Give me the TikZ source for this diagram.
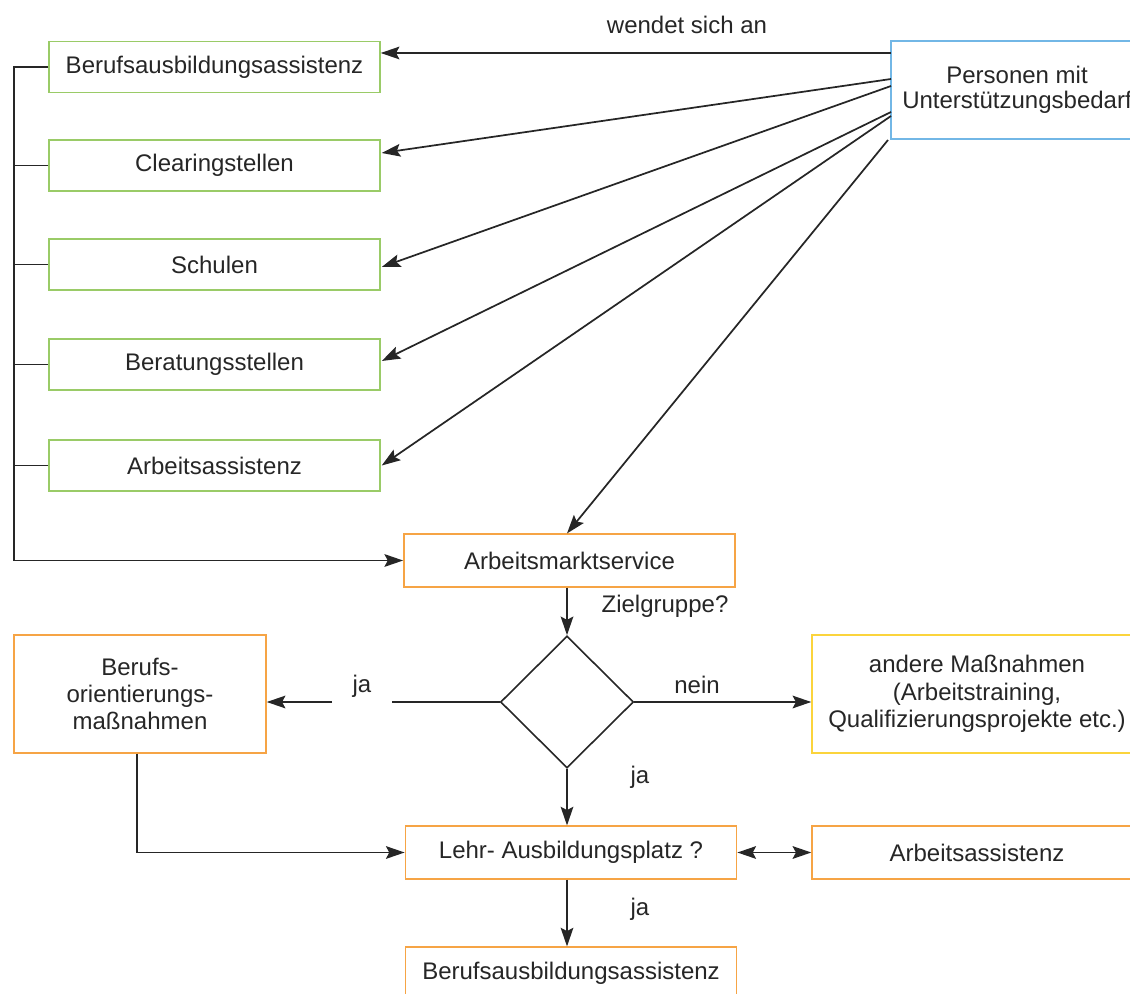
\documentclass[tikz,border=0pt]{standalone}
\usepackage{fontspec}
\setmainfont{Liberation Sans}
\usetikzlibrary{arrows.meta,shapes.geometric,calc}
\definecolor{ink}{HTML}{262626}
\definecolor{boxgreen}{HTML}{9ACB67}
\definecolor{boxblue}{HTML}{72B7E6}
\definecolor{boxorange}{HTML}{F6A445}
\definecolor{boxyellow}{HTML}{FBD43C}

\begin{document}
\begin{tikzpicture}[x=0.75pt,y=-0.75pt,
  every node/.style={font=\fontsize{18pt}{20.5pt}\selectfont, text=ink},
  box/.style={draw, line width=1.1pt, inner sep=0pt, align=center},
  greenbox/.style={box, draw=boxgreen, minimum width=248.25pt, minimum height=38.5pt},
  wideorange/.style={box, draw=boxorange, minimum width=248.5pt, minimum height=39.5pt},
  conn/.style={draw=ink, line width=1.3pt},
  head/.tip={Stealth[length=14pt,width=9.5pt,inset=2.5pt,fill=ink]},
  arr/.style={conn, -head},
  biarr/.style={conn, head-head},
  lbl/.style={inner sep=0pt}
]
\path[use as bounding box] (0,0) rectangle (1130,994);

% Anlaufstellen (links oben)
\node[greenbox] (b1) at (214.5,67)    {Berufsausbildungsassistenz};
\node[greenbox] (b2) at (214.5,165.5) {Clearingstellen};
\node[greenbox] (b3) at (214.5,264.5) {Schulen};
\node[greenbox] (b4) at (214.5,364.5) {Beratungsstellen};
\node[greenbox] (b5) at (214.5,465.5) {Arbeitsassistenz};

% Ausgangspunkt
\node[box, draw=boxblue, minimum width=189pt, minimum height=73.5pt,
      font=\fontsize{18pt}{19pt}\selectfont] (pers) at (1017,90)
      {Personen mit\\Unterstützungsbedarf};

% AMS und Entscheidung
\node[wideorange] (ams) at (569.5,560.5) {Arbeitsmarktservice};
\node[draw=ink, line width=1.2pt, diamond, minimum width=99.75pt,
      minimum height=99pt, inner sep=0pt] (dia) at (567,702) {};

\node[box, draw=boxorange, minimum width=189pt, minimum height=88.5pt] (bo) at (140,694)
      {Berufs-\\orientierungs-\\maßnahmen};
\node[box, draw=boxyellow, minimum width=247.5pt, minimum height=88.5pt] (andere) at (977,694)
      {andere Maßnahmen\\(Arbeitstraining,\\Qualifizierungsprojekte etc.)};

\node[wideorange] (lehr) at (571,852.5) {Lehr- Ausbildungsplatz ?};
\node[box, draw=boxorange, minimum width=247.5pt, minimum height=39.5pt] (aa2) at (977,852.5) {Arbeitsassistenz};
\node[wideorange] (bab) at (571,973.5) {Berufsausbildungsassistenz};

% Ausgaenge am linken Rand des Personen-Kastens
\coordinate (p1) at (891,53);
\coordinate (p2) at (891,79);
\coordinate (p3) at (891,86);
\coordinate (p4) at (891,112);
\coordinate (p5) at (891,116);
\coordinate (p6) at (888,140);

\draw[arr] (p1) -- (p1 -| b1.east);
\draw[arr] (p2) -- ($(b2.east)+(1,-12.5)$);
\draw[arr] (p3) -- ($(b3.east)+(1,2.5)$);
\draw[arr] (p4) -- ($(b4.east)+(1,-3.5)$);
\draw[arr] (p5) -- ($(b5.east)+(1,0)$);
\draw[arr] (p6) -- (ams.north -| dia.north);
\node[lbl] (wsa) at (687,25) {wendet sich an};

% Sammelschiene links
\coordinate (rail) at (14,0);
\draw[arr] (b1.west) -- (b1.west -| rail) |- (ams.west);
\draw[conn] (b2.west) -- (b2.west -| rail);
\draw[conn] (b3.west) -- (b3.west -| rail);
\draw[conn] (b4.west) -- (b4.west -| rail);
\draw[conn] (b5.west) -- (b5.west -| rail);

% Zielgruppe?
\draw[arr] (ams.south -| dia.north) -- (dia.north);
\node[lbl] (zg) at (665,606) {Zielgruppe?};

\coordinate (gapR) at (392,702);
\coordinate (gapL) at (332,702);
\draw[conn] (dia.west) -- (gapR);
\draw[arr] (gapL) -- (gapL -| bo.east);
\node[lbl] (ja1) at (362,686) {ja};

\draw[arr] (dia.east) -- (dia.east -| andere.west);
\node[lbl] (nein) at (697,685) {nein};

\draw[arr] (dia.south) -- (dia.south |- lehr.north);
\node[lbl] (ja2) at (640,777) {ja};

\draw[arr] (bo.south -| 137,0) |- (lehr.west);
\draw[biarr] (lehr.east) -- (aa2.west);

\draw[arr] (lehr.south -| dia.south) -- (bab.north -| dia.south);
\node[lbl] (ja3) at (640,909) {ja};
\end{tikzpicture}
\end{document}
